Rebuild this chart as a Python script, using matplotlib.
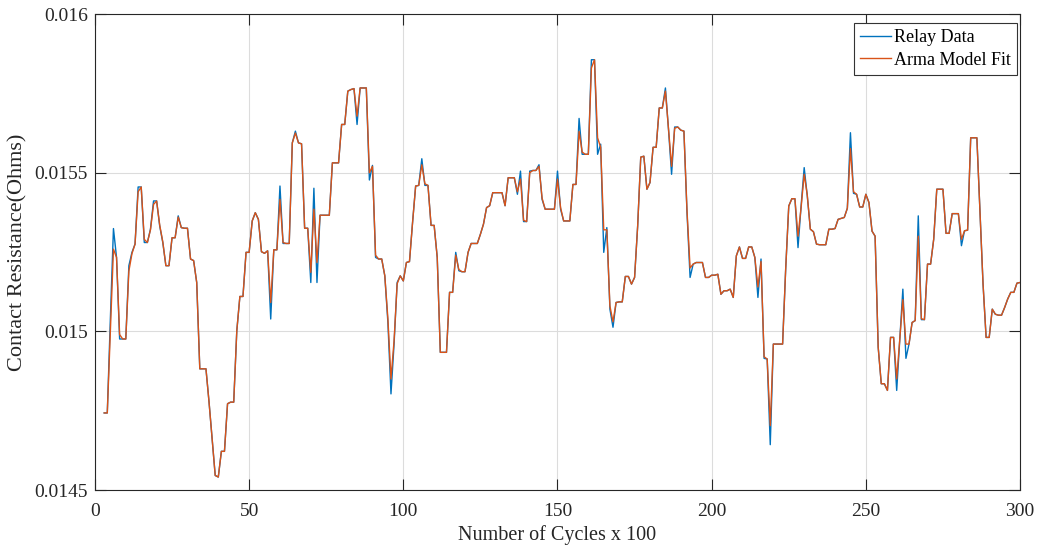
import matplotlib
matplotlib.use("Agg")
import matplotlib.pyplot as plt
import numpy as np

plt.rcParams['font.family'] = ['Liberation Serif', 'DejaVu Serif']

# x positions (Number of cycles x 100)
cycles = list(range(3, 301))

# Relay data (micro-ohms)
relay_uohm = [
    14743, 14743, 15040, 15324, 15233, 14976, 14976, 14976, 15207, 15249,
    15275, 15455, 15455, 15280, 15280, 15322, 15411, 15411, 15332, 15280,
    15207, 15207, 15295, 15295, 15364, 15327, 15325, 15325, 15228, 15223,
    15154, 14882, 14882, 14882, 14777, 14662, 14546, 14541, 14622, 14622,
    14772, 14777, 14777, 15002, 15110, 15110, 15249, 15249, 15348, 15374,
    15353, 15251, 15246, 15254, 15039, 15257, 15257, 15458, 15277, 15277,
    15277, 15594, 15631, 15594, 15591, 15325, 15325, 15154, 15451, 15154,
    15366, 15366, 15366, 15366, 15531, 15531, 15531, 15652, 15652, 15757,
    15762, 15765, 15652, 15767, 15767, 15767, 15477, 15523, 15233, 15228,
    15228, 15175, 15028, 14803, 14960, 15154, 15175, 15159, 15217, 15220,
    15343, 15458, 15460, 15544, 15460, 15460, 15334, 15334, 15233, 14934,
    14934, 14934, 15123, 15123, 15249, 15191, 15188, 15188, 15249, 15277,
    15277, 15277, 15306, 15338, 15390, 15396, 15437, 15437, 15437, 15437,
    15396, 15484, 15484, 15484, 15432, 15505, 15346, 15346, 15505, 15507,
    15507, 15525, 15416, 15385, 15385, 15385, 15385, 15505, 15385, 15348,
    15348, 15348, 15463, 15463, 15671, 15558, 15558, 15558, 15856, 15856,
    15558, 15590, 15249, 15327, 15070, 15013, 15091, 15093, 15093, 15173,
    15173, 15149, 15170, 15332, 15549, 15552, 15448, 15469, 15580, 15580,
    15704, 15704, 15767, 15636, 15495, 15644, 15644, 15634, 15631, 15374,
    15170, 15212, 15217, 15217, 15217, 15170, 15170, 15177, 15177, 15180,
    15117, 15128, 15128, 15133, 15107, 15238, 15266, 15230, 15230, 15266,
    15266, 15233, 15107, 15228, 14915, 14913, 14643, 14960, 14960, 14960,
    14960, 15196, 15395, 15418, 15418, 15264, 15395, 15516, 15427, 15322,
    15314, 15275, 15273, 15273, 15273, 15322, 15322, 15324, 15353, 15356,
    15359, 15388, 15626, 15435, 15432, 15392, 15392, 15432, 15406, 15316,
    15300, 14950, 14835, 14835, 14814, 14981, 14981, 14814, 14976, 15133,
    14915, 14960, 15028, 15034, 15364, 15037, 15037, 15212, 15212, 15290,
    15448, 15448, 15448, 15309, 15309, 15371, 15371, 15371, 15270, 15317,
    15319, 15610, 15610, 15610, 15380, 15150, 14981, 14981, 15070, 15054,
    15051, 15051, 15075, 15102, 15123, 15123, 15152, 15154,
]

# ARMA model fit (micro-ohms)
arma_uohm = [
    14743, 14743, 15000, 15259, 15233, 14990, 14976, 14976, 15190, 15245,
    15275, 15440, 15455, 15290, 15280, 15320, 15400, 15411, 15335, 15282,
    15207, 15207, 15295, 15295, 15360, 15327, 15325, 15325, 15228, 15223,
    15154, 14882, 14882, 14882, 14777, 14662, 14546, 14541, 14622, 14622,
    14772, 14777, 14777, 15002, 15110, 15110, 15249, 15249, 15348, 15374,
    15353, 15251, 15246, 15254, 15091, 15257, 15257, 15416, 15280, 15277,
    15277, 15594, 15625, 15594, 15591, 15325, 15325, 15186, 15385, 15217,
    15366, 15366, 15366, 15366, 15531, 15531, 15531, 15652, 15652, 15757,
    15762, 15765, 15678, 15767, 15767, 15767, 15500, 15520, 15240, 15228,
    15228, 15175, 15040, 14850, 14970, 15150, 15175, 15159, 15217, 15220,
    15343, 15458, 15460, 15525, 15465, 15460, 15334, 15334, 15233, 14934,
    14934, 14934, 15123, 15123, 15240, 15195, 15188, 15188, 15249, 15277,
    15277, 15277, 15306, 15338, 15390, 15396, 15437, 15437, 15437, 15437,
    15396, 15484, 15484, 15484, 15440, 15480, 15350, 15346, 15500, 15507,
    15507, 15520, 15420, 15385, 15385, 15385, 15385, 15480, 15390, 15348,
    15348, 15348, 15463, 15463, 15630, 15565, 15558, 15558, 15830, 15856,
    15610, 15580, 15320, 15320, 15080, 15030, 15091, 15093, 15093, 15173,
    15173, 15149, 15170, 15332, 15549, 15552, 15448, 15469, 15580, 15580,
    15704, 15704, 15757, 15640, 15520, 15640, 15644, 15634, 15631, 15380,
    15200, 15212, 15217, 15217, 15217, 15170, 15170, 15177, 15177, 15180,
    15117, 15128, 15128, 15133, 15107, 15238, 15266, 15230, 15230, 15266,
    15266, 15233, 15140, 15220, 14920, 14913, 14703, 14960, 14960, 14960,
    14960, 15196, 15395, 15418, 15418, 15300, 15390, 15495, 15430, 15322,
    15314, 15275, 15273, 15273, 15273, 15322, 15322, 15324, 15353, 15356,
    15359, 15388, 15576, 15440, 15432, 15392, 15392, 15432, 15406, 15316,
    15300, 14950, 14835, 14835, 14814, 14981, 14981, 14850, 14976, 15100,
    14960, 14960, 15028, 15034, 15300, 15040, 15037, 15212, 15212, 15290,
    15448, 15448, 15448, 15309, 15309, 15371, 15371, 15371, 15290, 15317,
    15319, 15610, 15610, 15610, 15380, 15150, 14981, 14981, 15070, 15054,
    15051, 15051, 15075, 15102, 15123, 15123, 15152, 15154,
]

x_ticks = [0, 50, 100, 150, 200, 250, 300]
y_ticks = [0.0145, 0.015, 0.0155, 0.016]
y_tick_labels = ['0.0145', '0.015', '0.0155', '0.016']

relay = np.array(relay_uohm) * 1e-6
arma = np.array(arma_uohm) * 1e-6

fig = plt.figure(figsize=(10.4, 5.5), dpi=100)
ax = fig.add_axes([0.0913, 0.109, 0.8895, 0.8655])

ax.plot(cycles, relay, color='#0072BD', lw=1.0, label='Relay Data')
ax.plot(cycles, arma, color='#D95319', lw=1.0, label='Arma Model Fit')

ax.set_xlim(0, 300)
ax.set_ylim(0.0145, 0.016)
ax.set_xticks(x_ticks)
ax.set_yticks(y_ticks)
ax.set_yticklabels(y_tick_labels)

ax.grid(True, color='#DCDCDC', lw=0.8)
ax.set_axisbelow(True)
for s in ax.spines.values():
    s.set_color('#262626')
    s.set_linewidth(0.8)
ax.tick_params(direction='in', top=True, right=True, length=8, width=0.8,
               color='#262626', labelcolor='#262626', labelsize=14)
ax.tick_params(axis='x', pad=9)
ax.tick_params(axis='y', pad=5)

ax.set_xlabel('Number of Cycles x 100', fontsize=14.5, color='#262626', labelpad=4)
ax.set_ylabel('Contact Resistance(Ohms)', fontsize=16, color='#262626', labelpad=5)

leg = ax.legend(loc='upper right', bbox_to_anchor=(0.9968, 0.981), fontsize=13,
                fancybox=False, framealpha=1, edgecolor='#333333',
                handlelength=1.7, handletextpad=0.15, borderpad=0.35,
                labelspacing=0.3, borderaxespad=0)
leg.get_frame().set_linewidth(0.8)

fig.savefig('out.png', dpi=100)
